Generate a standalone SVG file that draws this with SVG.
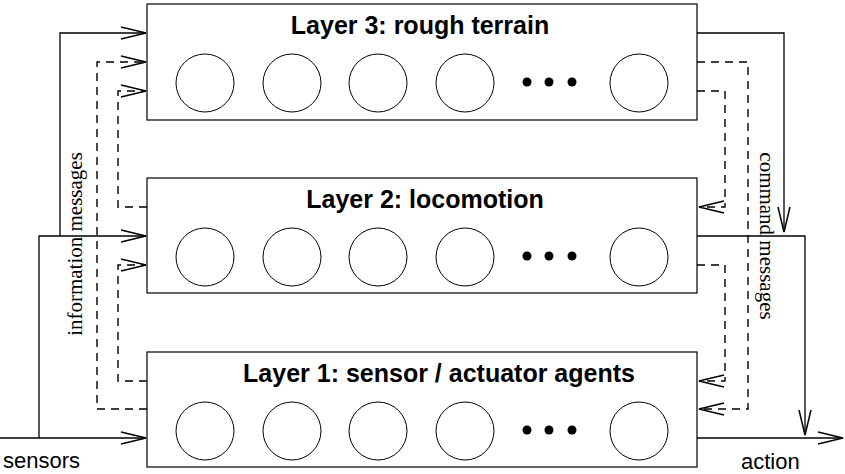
<svg xmlns="http://www.w3.org/2000/svg" width="845" height="474" viewBox="0 0 845 474">
<style>
.box{fill:#fff;stroke:#000;stroke-width:1.2}
.agent{fill:none;stroke:#000;stroke-width:1}
.dot{fill:#000}
.title{font-family:"Liberation Sans",Arial,sans-serif;font-weight:bold;font-size:25px;text-anchor:middle;fill:#000}
.lbl{font-family:"Liberation Sans",Arial,sans-serif;font-size:22px;fill:#000}
.rot{font-family:"Liberation Serif","Times New Roman",serif;font-size:21px;text-anchor:middle;fill:#000}
.solid{fill:none;stroke:#000;stroke-width:1.3}
.dash{fill:none;stroke:#000;stroke-width:1.4;stroke-dasharray:8,6}
</style>
<defs>
<marker id="arr" viewBox="-28 -8 30 16" refX="0" refY="0" markerWidth="30" markerHeight="16" markerUnits="userSpaceOnUse" orient="auto">
<path d="M-25,-6 L0,0 L-25,6" fill="none" stroke="#000" stroke-width="1.5" stroke-dasharray="none"/>
</marker>
</defs>
<g id="layer3">
<rect class="box" x="147" y="4" width="550" height="116"/>
<text class="title" x="420" y="34">Layer 3: rough terrain</text>
<circle class="agent" cx="205" cy="83" r="29"/>
<circle class="agent" cx="292" cy="83" r="29"/>
<circle class="agent" cx="378" cy="83" r="29"/>
<circle class="agent" cx="465" cy="83" r="29"/>
<circle class="dot" cx="527" cy="82" r="4.5"/>
<circle class="dot" cx="549" cy="82" r="4.5"/>
<circle class="dot" cx="572" cy="82" r="4.5"/>
<circle class="agent" cx="639" cy="83" r="29"/>
</g>
<g id="layer2">
<rect class="box" x="147" y="178" width="550" height="115"/>
<text class="title" x="425" y="208">Layer 2: locomotion</text>
<circle class="agent" cx="205" cy="257" r="29"/>
<circle class="agent" cx="292" cy="257" r="29"/>
<circle class="agent" cx="378" cy="257" r="29"/>
<circle class="agent" cx="465" cy="257" r="29"/>
<circle class="dot" cx="527" cy="256" r="4.5"/>
<circle class="dot" cx="549" cy="256" r="4.5"/>
<circle class="dot" cx="572" cy="256" r="4.5"/>
<circle class="agent" cx="639" cy="257" r="29"/>
</g>
<g id="layer1">
<rect class="box" x="147" y="352" width="550" height="115"/>
<text class="title" x="439" y="382">Layer 1: sensor / actuator agents</text>
<circle class="agent" cx="205" cy="431" r="29"/>
<circle class="agent" cx="292" cy="431" r="29"/>
<circle class="agent" cx="378" cy="431" r="29"/>
<circle class="agent" cx="465" cy="431" r="29"/>
<circle class="dot" cx="527" cy="430" r="4.5"/>
<circle class="dot" cx="549" cy="430" r="4.5"/>
<circle class="dot" cx="572" cy="430" r="4.5"/>
<circle class="agent" cx="639" cy="431" r="29"/>
</g>
<g id="connectors">
<path class="solid" d="M0,438 H146" marker-end="url(#arr)"/>
<path class="solid" d="M39,438 V236 H146" marker-end="url(#arr)"/>
<path class="solid" d="M60,236 V33 H146" marker-end="url(#arr)"/>
<path class="dash" d="M147,207 H118 V91 H146" marker-end="url(#arr)"/>
<path class="dash" d="M147,381 H118 V265 H146" marker-end="url(#arr)"/>
<path class="dash" d="M147,409 H97 V62 H146" marker-end="url(#arr)"/>
<path class="solid" d="M697,33 H784 V232" marker-end="url(#arr)"/>
<path class="solid" d="M697,236 H805 V435" marker-end="url(#arr)"/>
<path class="solid" d="M697,438 H843" marker-end="url(#arr)"/>
<path class="dash" d="M697,91 H725 V207 H699" marker-end="url(#arr)"/>
<path class="dash" d="M697,265 H725 V381 H699" marker-end="url(#arr)"/>
<path class="dash" d="M697,62 H748 V409 H699" marker-end="url(#arr)"/>
</g>
<g id="labels">
<text class="lbl" x="3" y="468">sensors</text>
<text class="lbl" x="741" y="469">action</text>
<text class="rot" transform="translate(82,244) rotate(-90)">information messages</text>
<text class="rot" transform="translate(760,236) rotate(90)">command messages</text>
</g>
</svg>
